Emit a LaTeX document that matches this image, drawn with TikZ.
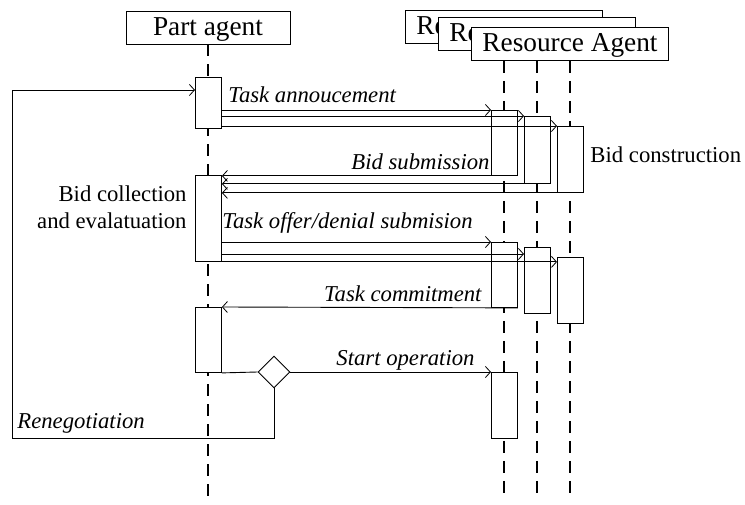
\documentclass[tikz,border=0pt]{standalone}
\usepackage{fontspec}
\setmainfont{Liberation Serif}
\usetikzlibrary{arrows.meta,shapes.geometric,calc}
\begin{document}
\begin{tikzpicture}[x=1pt,y=-1pt,
  line width=0.9pt,
  agentbox/.style={draw,fill=white,inner sep=0pt,minimum height=33pt,text height=20pt,text depth=4pt,font=\fontsize{27.3}{30}\selectfont},
  boxtext/.style={inner sep=0pt,text height=20pt,text depth=4pt,font=\fontsize{27.3}{30}\selectfont},
  act/.style={draw,fill=white,inner sep=0pt,minimum width=26pt,anchor=north west},
  life/.style={line width=1.3pt,dash pattern=on 12pt off 8pt},
  msg/.style={-{Straight Barb[length=5pt,width=11pt,line width=0.8pt]}},
  lbl/.style={inner sep=0pt,font=\fontsize{22.7}{26}\selectfont\itshape},
  txt/.style={inner sep=0pt,font=\fontsize{22.7}{26}\selectfont},
]
\useasboundingbox (0,0) rectangle (745,505);
% agent boxes
\node[agentbox,minimum width=164pt] (pbox) at (208,27.5) {Part agent};
\coordinate (pend) at (208,500);
\draw[life] (pbox.south) -- (pend);
\node[agentbox,minimum width=197pt] (rbox1) at (504,27) {};
\node[boxtext,anchor=west] (rtext1) at (416,27) {Re};
\node[agentbox,minimum width=197pt] (rbox2) at (537,33.5) {};
\node[boxtext,anchor=west] (rtext2) at (449,33.5) {Re};
\node[agentbox,minimum width=197pt] (rbox3) at (570,44) {Resource Agent};
\draw[life] (rbox3.south -| rbox1.south) -- (rbox1.south |- pend);
\draw[life] (rbox3.south -| rbox2.south) -- (rbox2.south |- pend);
\draw[life] (rbox3.south) -- (rbox3.south |- pend);
% activations
\node[act,minimum height=51pt] (pa1) at (195,77) {};
\node[act,minimum height=86pt] (pa2) at (195,175) {};
\node[act,minimum height=65pt] (pa3) at (195,307) {};
\node[act,minimum height=65pt] (r1a) at (491,110) {};
\node[act,minimum height=67pt] (r2a) at (524,116) {};
\node[act,minimum height=66pt] (r3a) at (557,126) {};
\node[act,minimum height=65pt] (r1b) at (491,242) {};
\node[act,minimum height=66pt] (r2b) at (524,247) {};
\node[act,minimum height=66pt] (r3b) at (557,257) {};
\node[act,minimum height=66pt] (r1c) at (491,372) {};
\node[draw,fill=white,diamond,aspect=1,minimum width=32pt,minimum height=32pt,inner sep=0pt] (dia) at (274,372) {};
% messages
\draw[msg] (pa1.east |- r1a.north) -- (r1a.north west);
\draw[msg] (pa1.east |- r2a.north) -- (r2a.north west);
\draw[msg] (pa1.east |- r3a.north) -- (r3a.north west);
\draw[msg] (r1a.south east) -- (pa2.east |- r1a.south);
\draw[msg] (r2a.south east) -- (pa2.east |- r2a.south);
\draw[msg] (r3a.south east) -- (pa2.east |- r3a.south);
\draw[msg] (pa2.east |- r1b.north) -- (r1b.north west);
\draw[msg] ($(pa2.east |- r2b.north)+(0,7)$) -- ($(r2b.north west)+(0,7)$);
\draw[msg] (pa2.south east) -- (r3b.west |- pa2.south);
\draw[msg] (r1b.south east) -- (pa3.north east);
\draw (pa3.south east) -- (dia.west);
\draw[msg] (dia.east) -- (r1c.north west);
\coordinate (rb) at (12,438);
\coordinate (rt) at (12,90);
\draw[msg] (dia.south) |- (rb) -- (rt) -- (pa1.west |- rt);
% labels
\node[lbl,anchor=base west] (l1) at (228,103) {Task annoucement};
\node[lbl,anchor=base east] (l2) at (490,170) {Bid submission};
\node[txt,anchor=base west] (l3) at (590,163) {Bid construction};
\node[txt,anchor=base east] (l4) at (187,202) {Bid collection};
\node[txt,anchor=base east] (l5) at (187,229) {and evalatuation};
\node[lbl,anchor=base west] (l6) at (222,229) {Task offer/denial submision};
\node[lbl,anchor=base east] (l7) at (482,302) {Task commitment};
\node[lbl,anchor=base east] (l8) at (475,365) {Start operation};
\node[lbl,anchor=base west] (l9) at (17,428) {Renegotiation};
\end{tikzpicture}
\end{document}
